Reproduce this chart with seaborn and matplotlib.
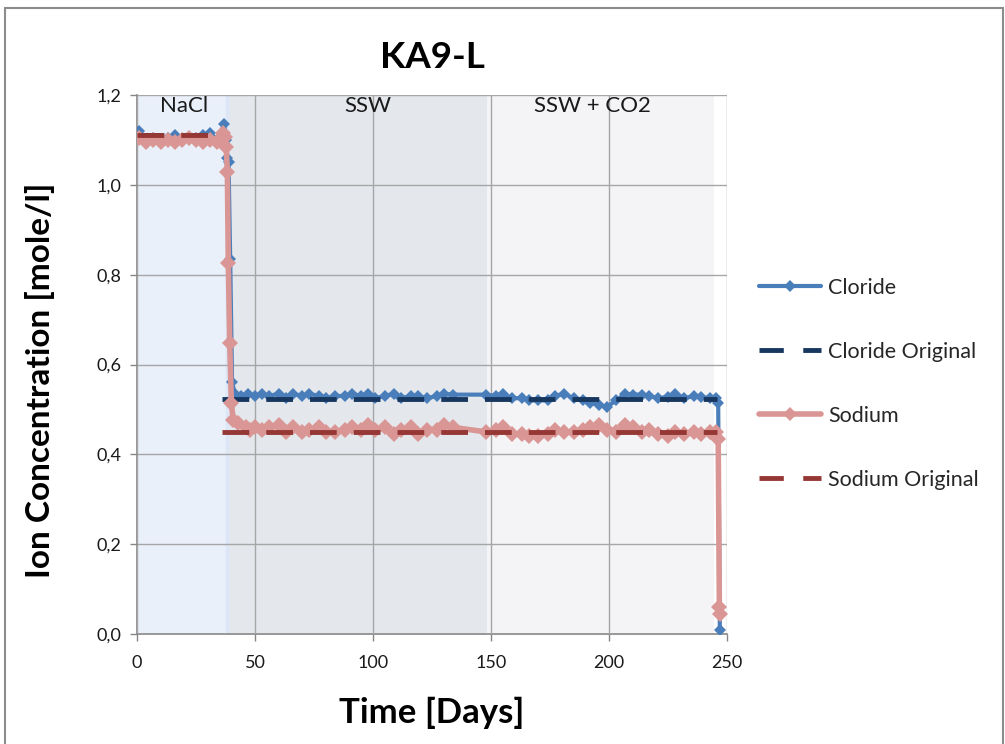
import matplotlib
matplotlib.use("Agg")
import matplotlib.pyplot as plt
from matplotlib.lines import Line2D
from matplotlib.patches import Rectangle
from matplotlib.ticker import FuncFormatter, MultipleLocator
import seaborn as sns
import pandas as pd

# --- measured data -------------------------------------------------------
cloride_days = [1, 4, 7, 10, 13, 16, 19, 22, 25, 28, 31, 34, 37, 37.8, 38.3, 38.8,
                39.5, 40.3, 41.5, 44, 47, 50, 53, 56, 60, 63, 66, 70, 73, 77, 80,
                84, 88, 91, 95, 98, 101, 105, 109, 112, 116, 119, 123, 127, 130,
                134, 148, 152, 155, 159, 163, 166, 170, 174, 177, 181, 185, 189,
                192, 196, 199, 203, 207, 210, 214, 217, 221, 225, 228, 232, 236,
                239, 243, 245.5, 246.3, 247]
cloride_conc = [1.12, 1.10, 1.105, 1.10, 1.105, 1.11, 1.10, 1.105, 1.105, 1.11,
                1.115, 1.10, 1.135, 1.10, 1.06, 1.05, 0.835, 0.56, 0.535, 0.53,
                0.535, 0.53, 0.535, 0.53, 0.535, 0.525, 0.535, 0.53, 0.535, 0.53,
                0.525, 0.53, 0.53, 0.535, 0.53, 0.535, 0.525, 0.53, 0.535, 0.525,
                0.53, 0.53, 0.525, 0.53, 0.535, 0.533, 0.533, 0.53, 0.535, 0.525,
                0.525, 0.52, 0.52, 0.52, 0.53, 0.535, 0.525, 0.52, 0.515, 0.51,
                0.505, 0.52, 0.535, 0.533, 0.533, 0.53, 0.525, 0.528, 0.535,
                0.525, 0.53, 0.528, 0.525, 0.525, 0.515, 0.01]

sodium_days = [1, 4, 7, 10, 13, 16, 19, 22, 25, 28, 31, 34, 36.5, 37.3, 37.8,
               38.3, 38.7, 39.3, 40, 40.8, 43, 46, 48, 50, 53, 56, 60, 63, 66, 70,
               73, 77, 80, 84, 88, 91, 95, 98, 101, 105, 109, 112, 116, 119, 123,
               127, 130, 134, 148, 152, 155, 159, 163, 166, 170, 174, 177, 181,
               185, 189, 192, 196, 199, 203, 207, 210, 214, 217, 221, 225, 228,
               232, 236, 239, 243, 245.5, 246.3, 246.8, 247]
sodium_conc = [1.105, 1.095, 1.10, 1.095, 1.10, 1.095, 1.10, 1.105, 1.10, 1.095,
               1.10, 1.095, 1.115, 1.107, 1.085, 1.028, 0.826, 0.648, 0.514, 0.477,
               0.47, 0.46, 0.455, 0.46, 0.455, 0.46, 0.465, 0.45, 0.46, 0.45,
               0.455, 0.46, 0.45, 0.45, 0.455, 0.46, 0.455, 0.465, 0.455, 0.46,
               0.445, 0.455, 0.46, 0.445, 0.455, 0.455, 0.465, 0.46, 0.45, 0.455,
               0.46, 0.445, 0.445, 0.44, 0.44, 0.445, 0.455, 0.45, 0.45, 0.455,
               0.46, 0.465, 0.455, 0.45, 0.465, 0.46, 0.45, 0.455, 0.445, 0.44,
               0.45, 0.445, 0.45, 0.445, 0.45, 0.45, 0.435, 0.06, 0.045]

# original (injected brine) concentrations, one segment per brine
cloride_orig_days = [[0, 37], [36, 246]]
cloride_orig_conc = [[1.11, 1.11], [0.523, 0.523]]
sodium_orig_days = [[0, 37], [36, 246]]
sodium_orig_conc = [[1.11, 1.11], [0.45, 0.45]]

# injection stages
stage_names = ["NaCl", "SSW", "SSW + CO2"]
stage_bounds = [(0, 38), (38, 148.5), (148.5, 244.5)]
stage_colors = ["#EAF0FA", "#E4E7EC", "#F4F4F7"]
stage_label_x = [20, 98, 193]

# --- styling --------------------------------------------------------------
sns.set_theme(style="white")
plt.rcParams["font.family"] = ["Lato", "DejaVu Sans"]

c_cl = "#4A7EBB"
c_cl_orig = "#17375E"
c_na = "#D99694"
c_na_orig = "#953735"

fig = plt.figure(figsize=(10.05, 7.44), dpi=100)
ax = fig.add_axes([0.1363, 0.1478, 0.587, 0.7245])

# chart border
fig.patches.append(Rectangle((5 / 1005, -0.01), 998 / 1005, (744 - 8) / 744 + 0.01,
                             transform=fig.transFigure, fill=False,
                             edgecolor="#8C8C8C", linewidth=1.5, zorder=0))

for (x0, x1), col in zip(stage_bounds, stage_colors):
    ax.axvspan(x0, x1, color=col, zorder=0, linewidth=0)
ax.axvline(stage_bounds[0][1], color="#DCE6F6", linewidth=2.5, zorder=0.5)

for name, xt in zip(stage_names, stage_label_x):
    ax.text(xt, 1.197, name, ha="center", va="top", fontsize=16, color="#1A1A1A")

df_cl = pd.DataFrame({"day": cloride_days, "conc": cloride_conc})
df_na = pd.DataFrame({"day": sodium_days, "conc": sodium_conc})

sns.lineplot(data=df_cl, x="day", y="conc", ax=ax, color=c_cl, linewidth=3,
             marker="D", markersize=6.5, markeredgewidth=0, sort=False,
             estimator=None, zorder=3)
for d, c in zip(cloride_orig_days, cloride_orig_conc):
    ax.plot(d, c, color=c_cl_orig, linewidth=3.5, dashes=(5.5, 3.5), zorder=4)
sns.lineplot(data=df_na, x="day", y="conc", ax=ax, color=c_na, linewidth=4,
             marker="D", markersize=8, markeredgewidth=0, sort=False,
             estimator=None, zorder=5)
for d, c in zip(sodium_orig_days, sodium_orig_conc):
    ax.plot(d, c, color=c_na_orig, linewidth=3.5, dashes=(5.5, 3.5), zorder=6)

ax.set_xlim(0, 250)
ax.set_ylim(0, 1.2)
ax.xaxis.set_major_locator(MultipleLocator(50))
ax.yaxis.set_major_locator(MultipleLocator(0.2))
ax.yaxis.set_major_formatter(FuncFormatter(lambda v, p: f"{v:.1f}".replace(".", ",")))
ax.grid(True, color="#A6A6A6", linewidth=1)
ax.set_axisbelow(False)
for gl in ax.get_xgridlines() + ax.get_ygridlines():
    gl.set_zorder(1)
for side in ["top", "right"]:
    ax.spines[side].set_visible(False)
for side in ["left", "bottom"]:
    ax.spines[side].set_color("#868686")
    ax.spines[side].set_linewidth(1.2)
ax.tick_params(axis="both", which="major", length=5, width=1, color="#868686",
               labelsize=13, labelcolor="#1A1A1A", direction="out",
               bottom=True, left=True)
ax.tick_params(axis="x", pad=10)
ax.tick_params(axis="y", pad=6)

ax.set_xlabel("Time [Days]", fontsize=25, fontweight="bold", color="#000000")
ax.xaxis.set_label_coords(0.5, -0.117)
ax.set_ylabel("Ion Concentration [mole/l]", fontsize=24, fontweight="bold",
              color="#000000")
ax.yaxis.set_label_coords(-0.139, 0.471)
fig.text(0.43, 0.923, "KA9-L", ha="center", va="center", fontsize=26.5,
         fontweight="bold", color="#000000")

handles = [
    Line2D([], [], color=c_cl, linewidth=3, marker="D", markersize=6, markeredgewidth=0),
    Line2D([], [], color=c_cl_orig, linewidth=3.5, dashes=(5, 4)),
    Line2D([], [], color=c_na, linewidth=4, marker="D", markersize=7, markeredgewidth=0),
    Line2D([], [], color=c_na_orig, linewidth=3.5, dashes=(5, 4)),
]
labels = ["Cloride", "Cloride Original", "Sodium", "Sodium Original"]
fig.legend(handles, labels, loc="upper left", bbox_to_anchor=(0.736, 0.653),
           frameon=False, fontsize=15.5, handlelength=2.9, handletextpad=0.3,
           labelspacing=2.05)

fig.savefig("out.png", dpi=100, facecolor="white")
